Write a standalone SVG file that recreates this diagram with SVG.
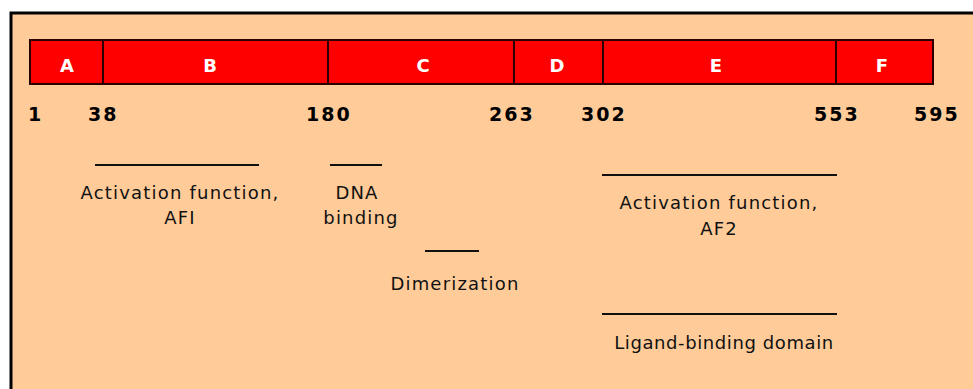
<svg xmlns="http://www.w3.org/2000/svg" width="973" height="389" viewBox="0 0 973 389">
  <style>
    .seg { fill: #ff0000; stroke: #2a0000; stroke-width: 2; }
    .seglbl { font-family: "DejaVu Sans", "Liberation Sans", sans-serif; font-weight: bold; font-size: 18px; fill: #ffffff; text-anchor: middle; }
    .pos { font-family: "DejaVu Sans", "Liberation Sans", sans-serif; font-weight: bold; font-size: 19px; fill: #000000; letter-spacing: 2px; }
    .lbl { font-family: "DejaVu Sans", "Liberation Sans", sans-serif; font-size: 18px; fill: #111111; text-anchor: middle; letter-spacing: 1.2px; }
    .tight { letter-spacing: 0.6px; }
    .bar { stroke: #111111; stroke-width: 2; fill: none; }
  </style>

  <!-- background and panel frame -->
  <rect x="0" y="0" width="973" height="389" fill="#ffffff"/>
  <rect x="11" y="13" width="970" height="390" fill="#ffcc99" stroke="#000000" stroke-width="3"/>

  <!-- receptor domain bar, segments A–F -->
  <g id="domain-A"><rect class="seg" x="30" y="40" width="73" height="44"/><text class="seglbl" x="67" y="72">A</text></g>
  <g id="domain-B"><rect class="seg" x="103" y="40" width="225" height="44"/><text class="seglbl" x="210" y="72">B</text></g>
  <g id="domain-C"><rect class="seg" x="328" y="40" width="186" height="44"/><text class="seglbl" x="423" y="72">C</text></g>
  <g id="domain-D"><rect class="seg" x="514" y="40" width="89" height="44"/><text class="seglbl" x="557" y="72">D</text></g>
  <g id="domain-E"><rect class="seg" x="603" y="40" width="233" height="44"/><text class="seglbl" x="716" y="72">E</text></g>
  <g id="domain-F"><rect class="seg" x="836" y="40" width="97" height="44"/><text class="seglbl" x="882" y="72">F</text></g>

  <!-- residue positions -->
  <g id="positions">
    <text class="pos" x="28" y="121">1</text>
    <text class="pos" x="88" y="121">38</text>
    <text class="pos" x="306" y="121">180</text>
    <text class="pos" x="489" y="121">263</text>
    <text class="pos" x="581" y="121">302</text>
    <text class="pos" x="814" y="121">553</text>
    <text class="pos" x="914" y="121">595</text>
  </g>

  <!-- functional region spans -->
  <g id="connectors">
    <line class="bar" x1="95" y1="165" x2="259" y2="165"/>
    <line class="bar" x1="330" y1="165" x2="382" y2="165"/>
    <line class="bar" x1="425" y1="251" x2="479" y2="251"/>
    <line class="bar" x1="602" y1="175" x2="837" y2="175"/>
    <line class="bar" x1="602" y1="314" x2="837" y2="314"/>
  </g>

  <!-- region labels -->
  <g id="af1"><text class="lbl" x="180" y="199">Activation function,</text><text class="lbl" x="180" y="224">AFI</text></g>
  <g id="dna-binding"><text class="lbl" x="357" y="199">DNA</text><text class="lbl" x="361" y="224">binding</text></g>
  <g id="dimerization"><text class="lbl" x="455" y="290">Dimerization</text></g>
  <g id="af2"><text class="lbl" x="719" y="209">Activation function,</text><text class="lbl" x="719" y="235">AF2</text></g>
  <g id="ligand-binding"><text class="lbl tight" x="724" y="349">Ligand-binding domain</text></g>
</svg>
